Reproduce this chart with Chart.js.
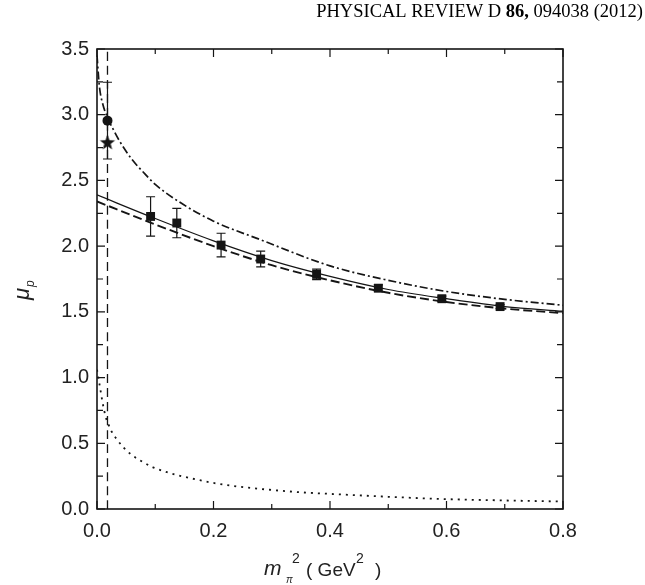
<!DOCTYPE html>
<html><head><meta charset="utf-8">
<script src="https://cdn.jsdelivr.net/npm/chart.js@4.4.1/dist/chart.umd.min.js"></script>
<style>
html,body{margin:0;padding:0;background:#fff;}
#wrap{position:relative;width:645px;height:585px;}
</style>
</head><body>
<div id="wrap"><canvas id="c" width="645" height="585"></canvas></div>
<script>
// ---- data ----
const xTickValues = [0, 0.2, 0.4, 0.6, 0.8];
const yTickValues = [0, 0.5, 1.0, 1.5, 2.0, 2.5, 3.0, 3.5];

const latticeX   = [0.092, 0.137, 0.213, 0.281, 0.377, 0.483, 0.592, 0.692];
const latticeY   = [2.226, 2.176, 2.008, 1.902, 1.785, 1.680, 1.600, 1.540];
const latticeErr = [0.150, 0.112, 0.090, 0.060, 0.040, 0.025, 0.020, 0.015];

const physX = [0.018];
const physY = [2.955];
const physErr = [0.292];

const exptX = [0.018];
const exptY = [2.793];

const solidX = [0, 0.1, 0.2, 0.3, 0.4, 0.5, 0.6, 0.7, 0.8];
const solidY = [2.39, 2.21, 2.04, 1.89, 1.77, 1.67, 1.60, 1.54, 1.505];

const dashedX = [0, 0.1, 0.2, 0.3, 0.4, 0.5, 0.6, 0.7, 0.8];
const dashedY = [2.34, 2.165, 2.00, 1.855, 1.74, 1.645, 1.575, 1.525, 1.49];

const dashDotX = [0, 0.004, 0.01, 0.02, 0.03, 0.04, 0.06, 0.08, 0.1, 0.14, 0.2, 0.28, 0.4, 0.5, 0.6, 0.7, 0.8];
const dashDotY = [3.45, 3.22, 3.08, 2.96, 2.87, 2.79, 2.66, 2.56, 2.47, 2.34, 2.19, 2.05, 1.85, 1.74, 1.655, 1.595, 1.55];

const dottedX = [0, 0.005, 0.01, 0.015, 0.02, 0.025, 0.035, 0.045, 0.057, 0.07, 0.095, 0.12, 0.145, 0.17, 0.2, 0.23, 0.26, 0.3, 0.35, 0.4, 0.5, 0.6, 0.7, 0.8];
const dottedY = [1.06, 0.93, 0.80, 0.70, 0.64, 0.59, 0.525, 0.47, 0.42, 0.38, 0.32, 0.28, 0.25, 0.225, 0.198, 0.178, 0.162, 0.145, 0.127, 0.115, 0.093, 0.075, 0.065, 0.057];

const vlineX = [0.018, 0.018];
const vlineY = [0, 3.5];

const headerParts = [["PHYSICAL REVIEW D ", false], ["86,", true], [" 094038 (2012)", false]];

// ---- helpers ----
const pts = (xs, ys) => xs.map((x, i) => ({x, y: ys[i]}));
const INK = '#151515';

function starImage(R) {
  const c = document.createElement('canvas');
  const s = Math.ceil(R * 2 + 2);
  c.width = s; c.height = s;
  const g = c.getContext('2d');
  g.fillStyle = INK;
  g.beginPath();
  for (let i = 0; i < 10; i++) {
    const r = i % 2 ? R * 0.42 : R;
    const a = -Math.PI / 2 + i * Math.PI / 5;
    const px = s / 2 + r * Math.cos(a), py = s / 2 + 1 + r * Math.sin(a);
    i ? g.lineTo(px, py) : g.moveTo(px, py);
  }
  g.closePath(); g.fill();
  return c;
}

const lineDs = (label, xs, ys, dash, w) => ({
  label, data: pts(xs, ys), showLine: true, pointRadius: 0, borderColor: INK,
  borderWidth: w, borderDash: dash, cubicInterpolationMode: 'monotone', fill: false,
  borderCapStyle: 'butt'
});

const errorBars = {
  id: 'errorBars',
  afterDatasetsDraw(chart) {
    const {ctx, scales: {x, y}} = chart;
    ctx.save();
    ctx.strokeStyle = INK; ctx.lineWidth = 1.2;
    chart.data.datasets.forEach(ds => {
      if (!ds.errors) return;
      ds.data.forEach((p, i) => {
        const e = ds.errors[i];
        const px = x.getPixelForValue(p.x);
        const yt = y.getPixelForValue(p.y + e), yb = y.getPixelForValue(p.y - e);
        const cw = 4.5;
        ctx.beginPath();
        ctx.moveTo(px, yt); ctx.lineTo(px, yb);
        ctx.moveTo(px - cw, yt); ctx.lineTo(px + cw, yt);
        ctx.moveTo(px - cw, yb); ctx.lineTo(px + cw, yb);
        ctx.stroke();
      });
    });
    ctx.restore();
  }
};

const frame = {
  id: 'frame',
  afterDraw(chart) {
    const {ctx, chartArea: a, scales: {x, y}} = chart;
    ctx.save();
    ctx.strokeStyle = INK;
    ctx.lineWidth = 1.6;
    ctx.strokeRect(a.left, a.top, a.right - a.left, a.bottom - a.top);
    ctx.lineWidth = 1.2;
    ctx.beginPath();
    for (let i = 0; i < xTickValues.length; i++) {
      const v = xTickValues[i];
      const px = x.getPixelForValue(v);
      ctx.moveTo(px, a.bottom); ctx.lineTo(px, a.bottom - 8);
      ctx.moveTo(px, a.top); ctx.lineTo(px, a.top + 8);
      if (i < xTickValues.length - 1) {
        const m = x.getPixelForValue((v + xTickValues[i + 1]) / 2);
        ctx.moveTo(m, a.bottom); ctx.lineTo(m, a.bottom - 5);
        ctx.moveTo(m, a.top); ctx.lineTo(m, a.top + 5);
      }
    }
    for (let i = 0; i < yTickValues.length; i++) {
      const v = yTickValues[i];
      const py = y.getPixelForValue(v);
      ctx.moveTo(a.left, py); ctx.lineTo(a.left + 8, py);
      ctx.moveTo(a.right, py); ctx.lineTo(a.right - 8, py);
      if (i < yTickValues.length - 1) {
        const m = y.getPixelForValue((v + yTickValues[i + 1]) / 2);
        ctx.moveTo(a.left, m); ctx.lineTo(a.left + 6, m);
        ctx.moveTo(a.right, m); ctx.lineTo(a.right - 6, m);
      }
    }
    ctx.stroke();

    // header
    ctx.fillStyle = '#000';
    ctx.textBaseline = 'alphabetic';
    let total = 0;
    const fontOf = b => (b ? 'bold ' : '') + '18.5px "Liberation Serif", "Times New Roman", serif';
    headerParts.forEach(([t, b]) => { ctx.font = fontOf(b); total += ctx.measureText(t).width; });
    let hx = 643 - total;
    headerParts.forEach(([t, b]) => { ctx.font = fontOf(b); ctx.fillText(t, hx, 17); hx += ctx.measureText(t).width; });

    // x axis title: m_pi^2 ( GeV^2 )
    ctx.fillStyle = '#222';
    const sans = '"Liberation Sans", Arial, sans-serif';
    ctx.font = 'italic 21px ' + sans; ctx.fillText('m', 264, 575);
    ctx.font = 'italic 10px ' + sans; ctx.fillText('π', 286, 583);
    ctx.font = '14px ' + sans; ctx.fillText('2', 292, 563);
    ctx.font = '19px ' + sans; ctx.fillText('( GeV', 306, 576);
    ctx.font = '14px ' + sans; ctx.fillText('2', 356, 563);
    ctx.font = '19px ' + sans; ctx.fillText(')', 375, 576);

    // y axis title: mu_p
    ctx.save();
    ctx.translate(29, 300);
    ctx.rotate(-Math.PI / 2);
    ctx.font = 'italic 22px ' + sans; ctx.fillText('μ', 0, 0);
    ctx.font = 'italic 12px ' + sans; ctx.fillText('p', 13, 5);
    ctx.restore();
    ctx.restore();
  }
};

const tickFont = {size: 20, family: '"Liberation Sans", Arial, sans-serif'};

new Chart(document.getElementById('c'), {
  type: 'scatter',
  data: {
    datasets: [
      lineDs('solid', solidX, solidY, [], 1.2),
      lineDs('dashed', dashedX, dashedY, [9, 4], 1.9),
      lineDs('dash-dot', dashDotX, dashDotY, [8, 3, 2, 3], 1.7),
      lineDs('dotted', dottedX, dottedY, [2, 5], 1.8),
      lineDs('physical point', vlineX, vlineY, [9, 5], 1.3),
      {label: 'lattice', data: pts(latticeX, latticeY), errors: latticeErr, pointStyle: 'rect',
       pointRadius: 6.3, backgroundColor: INK, borderColor: INK, borderWidth: 0, showLine: false},
      {label: 'extrapolated', data: pts(physX, physY), errors: physErr, pointStyle: 'circle',
       pointRadius: 5, backgroundColor: INK, borderColor: INK, borderWidth: 0, showLine: false},
      {label: 'experiment', data: pts(exptX, exptY), pointStyle: starImage(8), pointRadius: 8,
       showLine: false}
    ]
  },
  options: {
    responsive: false, animation: false, devicePixelRatio: 1,
    layout: {padding: {left: 0, right: 82, top: 49, bottom: 0}},
    plugins: {legend: {display: false}, tooltip: {enabled: false}},
    scales: {
      x: {
        type: 'linear', min: 0, max: 0.8,
        grid: {display: false, drawTicks: false}, border: {display: false},
        afterBuildTicks: s => { s.ticks = xTickValues.map(v => ({value: v})); },
        ticks: {callback: v => v.toFixed(1), font: tickFont, color: '#222', padding: 10, maxRotation: 0, autoSkip: false},
        afterFit: s => { s.height = 76; }
      },
      y: {
        type: 'linear', min: 0, max: 3.5,
        grid: {display: false, drawTicks: false}, border: {display: false},
        afterBuildTicks: s => { s.ticks = yTickValues.map(v => ({value: v})); },
        ticks: {callback: v => v.toFixed(1), font: tickFont, color: '#222', padding: 8, autoSkip: false},
        afterFit: s => { s.width = 97; }
      }
    }
  },
  plugins: [errorBars, frame]
});
</script>
</body></html>
